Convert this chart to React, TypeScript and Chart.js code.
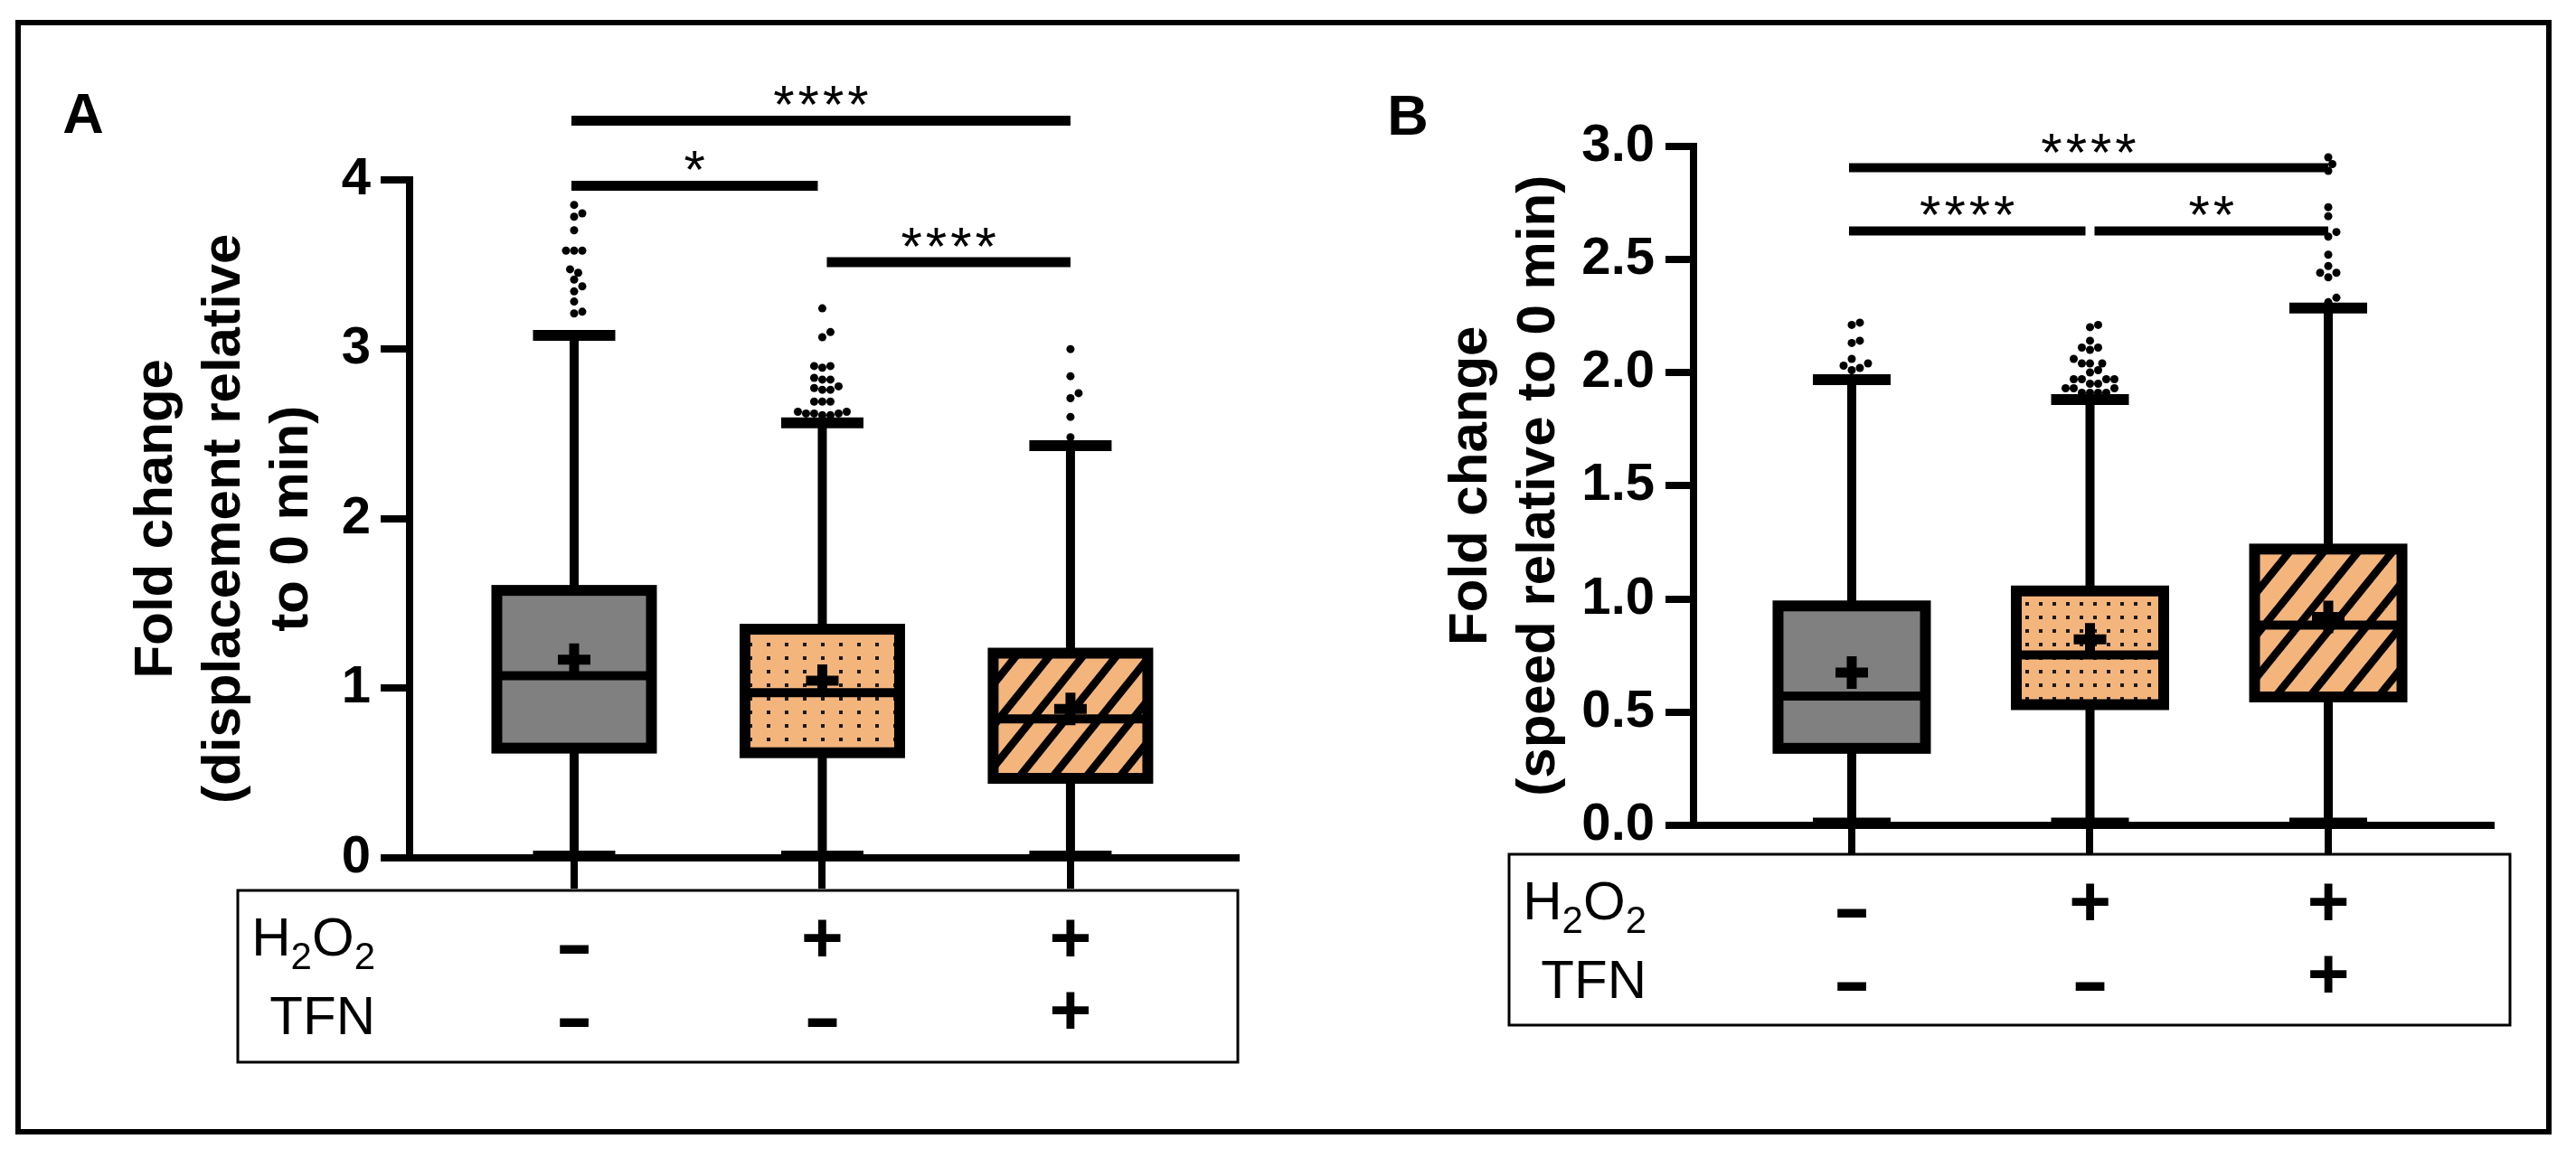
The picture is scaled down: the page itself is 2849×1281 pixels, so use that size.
import React, { useEffect, useRef } from 'react';
import { Chart, registerables } from 'chart.js';

Chart.register(...registerables);

const FONT = '"Liberation Sans", Arial, Helvetica, sans-serif';
const GREY = '#808080';
const ORANGE = '#F4B57D';
const INK = '#000000';

// ---------- shared categories / condition table ----------
const categories = ['Control', 'H2O2', 'H2O2 + TFN'];
const rowLabels = ['H2O2', 'TFN'];
const h2o2Signs = ['–', '+', '+'];
const tfnSigns = ['–', '–', '+'];

// ---------- Panel A : displacement ----------
const dispQ1 = [0.647, 0.62, 0.469];
const dispMedian = [1.074, 0.974, 0.82];
const dispQ3 = [1.577, 1.348, 1.207];
const dispLow = [0.01, 0.01, 0.01];
const dispHigh = [3.08, 2.565, 2.43];
const dispMean = [1.168, 1.044, 0.878];
const dispOutliersCtrl = [3.85, 3.80, 3.78, 3.70, 3.58, 3.58, 3.58, 3.47, 3.45, 3.41, 3.37, 3.34, 3.28, 3.22, 3.21];
const dispOutliersH2O2 = [3.24, 3.10, 3.07, 2.90, 2.90, 2.89, 2.83, 2.82, 2.82, 2.78, 2.77, 2.76, 2.76, 2.69, 2.69, 2.69, 2.63, 2.63, 2.62, 2.62, 2.62, 2.61, 2.61];
const dispOutliersTFN = [3.00, 2.84, 2.74, 2.71, 2.60, 2.48];
const dispTicks = [0, 1, 2, 3, 4];
const dispTickLabels = ['0', '1', '2', '3', '4'];
const dispTitle = ['Fold change', '(displacement relative', 'to 0 min)'];
const dispSigFrom = [0, 0, 1];
const dispSigTo = [2, 1, 2];
const dispSigLevel = [4.347, 3.963, 3.512];
const dispSigText = ['****', '*', '****'];

// ---------- Panel B : speed ----------
const speedQ1 = [0.34, 0.533, 0.567];
const speedMedian = [0.571, 0.752, 0.884];
const speedQ3 = [0.969, 1.035, 1.22];
const speedLow = [0.01, 0.01, 0.01];
const speedHigh = [1.968, 1.88, 2.284];
const speedMean = [0.675, 0.821, 0.92];
const speedOutliersCtrl = [2.22, 2.21, 2.14, 2.13, 2.06, 2.04, 2.03, 2.02, 2.01];
const speedOutliersH2O2 = [2.21, 2.20, 2.14, 2.11, 2.11, 2.10, 2.06, 2.04, 2.04, 2.04, 2.01, 2.00, 1.97, 1.97, 1.97, 1.97, 1.95, 1.95, 1.93, 1.93, 1.93, 1.91, 1.91, 1.91, 1.91];
const speedOutliersTFN = [2.95, 2.92, 2.89, 2.73, 2.69, 2.62, 2.60, 2.52, 2.47, 2.44, 2.44, 2.42, 2.33, 2.31];
const speedTicks = [0, 0.5, 1.0, 1.5, 2.0, 2.5, 3.0];
const speedTickLabels = ['0.0', '0.5', '1.0', '1.5', '2.0', '2.5', '3.0'];
const speedTitle = ['Fold change', '(speed relative to 0 min)'];
const speedSigFrom = [0, 0, 1];
const speedSigTo = [2, 1, 2];
const speedSigLevel = [2.904, 2.625, 2.625];
const speedSigText = ['****', '****', '**'];

type Geom = {
  left: number; width: number; height: number;
  padLeft: number; padTop: number; padRight: number; yWidth: number; xHeight: number;
  xMin: number; xMax: number;
  boxW: number; capW: number; sigLW: number;
  tickLen: number; tickPad: number; xTickLen: number;
  letterX: number; letterY: number;
  table: { l: number; r: number; t: number; b: number };
  labelRight: number;
  dotTile: [number, number];
  hatch: [number, number, number];
};

type PanelCfg = {
  letter: string;
  q1: number[]; median: number[]; q3: number[]; low: number[]; high: number[]; mean: number[];
  outliers: number[][];
  yTicks: number[]; yTickLabels: string[]; yMax: number;
  title: string[];
  sigFrom: number[]; sigTo: number[]; sigLevel: number[]; sigText: string[];
  geom: Geom;
};

const panelA: PanelCfg = {
  letter: 'A',
  q1: dispQ1, median: dispMedian, q3: dispQ3, low: dispLow, high: dispHigh, mean: dispMean,
  outliers: [dispOutliersCtrl, dispOutliersH2O2, dispOutliersTFN],
  yTicks: dispTicks, yTickLabels: dispTickLabels, yMax: 4,
  title: dispTitle,
  sigFrom: dispSigFrom, sigTo: dispSigTo, sigLevel: dispSigLevel, sigText: dispSigText,
  geom: {
    left: 0, width: 1424, height: 1281,
    padLeft: 135.5, padTop: 198.5, padRight: 57, yWidth: 317.5, xHeight: 332,
    xMin: -0.663, xMax: 2.667,
    boxW: 171, capW: 91, sigLW: 11,
    tickLen: 32, tickPad: 11, xTickLen: 34,
    letterX: 92, letterY: 130,
    table: { l: 263, r: 1369, t: 985, b: 1175 },
    labelRight: 415,
    dotTile: [20, 15],
    hatch: [37, 46, 11],
  },
};

const panelB: PanelCfg = {
  letter: 'B',
  q1: speedQ1, median: speedMedian, q3: speedQ3, low: speedLow, high: speedHigh, mean: speedMean,
  outliers: [speedOutliersCtrl, speedOutliersH2O2, speedOutliersTFN],
  yTicks: speedTicks, yTickLabels: speedTickLabels, yMax: 3,
  title: speedTitle,
  sigFrom: speedSigFrom, sigTo: speedSigTo, sigLevel: speedSigLevel, sigText: speedSigText,
  geom: {
    left: 1424, width: 1425, height: 1281,
    padLeft: 165.5, padTop: 161.5, padRight: 94, yWidth: 283.5, xHeight: 368,
    xMin: -0.664, xMax: 2.683,
    boxW: 163, capW: 86, sigLW: 10,
    tickLen: 31, tickPad: 12, xTickLen: 32,
    letterX: 133, letterY: 132,
    table: { l: 245, r: 1352, t: 945, b: 1134 },
    labelRight: 397,
    dotTile: [15, 15],
    hatch: [38, 47, 11],
  },
};

function makeDots(ctx: CanvasRenderingContext2D, w: number, h: number) {
  const c = document.createElement('canvas');
  c.width = w; c.height = h;
  const g = c.getContext('2d')!;
  g.fillStyle = ORANGE; g.fillRect(0, 0, w, h);
  g.fillStyle = '#1a1a1a';
  g.fillRect(Math.round(w / 2 - 2), Math.round(h / 2 - 2), 4, 4);
  return ctx.createPattern(c, 'repeat')!;
}

function makeHatch(ctx: CanvasRenderingContext2D, W: number, H: number, t: number) {
  const c = document.createElement('canvas');
  c.width = W; c.height = H;
  const g = c.getContext('2d')!;
  g.fillStyle = ORANGE; g.fillRect(0, 0, W, H);
  g.fillStyle = INK;
  for (let k = -1; k <= 1; k++) {
    g.beginPath();
    g.moveTo(k * W, H);
    g.lineTo(k * W + W, 0);
    g.lineTo(k * W + W + t, 0);
    g.lineTo(k * W + t, H);
    g.closePath();
    g.fill();
  }
  return ctx.createPattern(c, 'repeat')!;
}

function swarm(values: number[], cx: number, toPx: (v: number) => number, d: number) {
  const placed: { x: number; y: number }[] = [];
  const sorted = [...values].sort((a, b) => a - b);
  for (const v of sorted) {
    const y = toPx(v);
    let px = cx;
    for (let i = 0; i < 60; i++) {
      const off = i === 0 ? 0 : (i % 2 === 1 ? 1 : -1) * Math.ceil(i / 2) * d * 0.5;
      const cand = cx + off;
      if (placed.every((p) => (p.x - cand) ** 2 + (p.y - y) ** 2 >= d * d * 0.92)) { px = cand; break; }
    }
    placed.push({ x: px, y });
  }
  return placed;
}

function line(ctx: CanvasRenderingContext2D, x1: number, y1: number, x2: number, y2: number) {
  ctx.beginPath(); ctx.moveTo(x1, y1); ctx.lineTo(x2, y2); ctx.stroke();
}

function drawChemLabel(ctx: CanvasRenderingContext2D, text: string, right: number, baseline: number) {
  const big = `60px ${FONT}`;
  const small = `42px ${FONT}`;
  const parts = text.split('').map((ch) => ({ ch, sub: /[0-9]/.test(ch) }));
  let total = 0;
  const widths = parts.map((p) => { ctx.font = p.sub ? small : big; const w = ctx.measureText(p.ch).width; total += w; return w; });
  let x = right - total;
  ctx.textAlign = 'left';
  ctx.textBaseline = 'alphabetic';
  parts.forEach((p, i) => {
    ctx.font = p.sub ? small : big;
    ctx.fillText(p.ch, x, baseline + (p.sub ? 15 : 0));
    x += widths[i];
  });
}

function Panel({ cfg }: { cfg: PanelCfg }) {
  const ref = useRef<HTMLCanvasElement>(null);
  const g = cfg.geom;
  useEffect(() => {
    const canvas = ref.current!;
    const ctx0 = canvas.getContext('2d')!;
    const fills = [GREY, makeDots(ctx0, g.dotTile[0], g.dotTile[1]), makeHatch(ctx0, g.hatch[0], g.hatch[1], g.hatch[2])];

    const plugin = {
      id: 'boxplot' + cfg.letter,
      afterDatasetDraw(chart: any, args: any) {
        if (args.meta.type !== 'bar') return;
        const ctx: CanvasRenderingContext2D = chart.ctx;
        const xs = chart.scales.x, ys = chart.scales.y;
        ctx.save();
        ctx.strokeStyle = INK; ctx.lineCap = 'butt';
        for (let i = 0; i < cfg.q1.length; i++) {
          const cx = xs.getPixelForValue(i);
          const yq1 = ys.getPixelForValue(cfg.q1[i]);
          const yq3 = ys.getPixelForValue(cfg.q3[i]);
          const ymed = ys.getPixelForValue(cfg.median[i]);
          const ylo = ys.getPixelForValue(cfg.low[i]);
          const yhi = ys.getPixelForValue(cfg.high[i]);
          ctx.lineWidth = 10;
          line(ctx, cx, yq3, cx, yhi);
          line(ctx, cx, yq1, cx, ylo);
          ctx.lineWidth = 12;
          line(ctx, cx - g.capW / 2, yhi, cx + g.capW / 2, yhi);
          line(ctx, cx - g.capW / 2, ylo, cx + g.capW / 2, ylo);
          ctx.lineWidth = 10;
          line(ctx, cx - g.boxW / 2, ymed, cx + g.boxW / 2, ymed);
          ctx.lineWidth = 12;
          ctx.strokeRect(cx - g.boxW / 2, yq3, g.boxW, yq1 - yq3);
        }
        ctx.restore();
      },
      afterDatasetsDraw(chart: any) {
        const ctx: CanvasRenderingContext2D = chart.ctx;
        const xs = chart.scales.x, ys = chart.scales.y;
        ctx.save();
        ctx.fillStyle = INK;
        cfg.outliers.forEach((vals, i) => {
          const pts = swarm(vals, xs.getPixelForValue(i), (v) => ys.getPixelForValue(v), 9);
          pts.forEach((p) => { ctx.beginPath(); ctx.arc(p.x, p.y, 4.5, 0, Math.PI * 2); ctx.fill(); });
        });
        ctx.restore();
      },
      afterDraw(chart: any) {
        const ctx: CanvasRenderingContext2D = chart.ctx;
        const xs = chart.scales.x, ys = chart.scales.y;
        ctx.save();
        ctx.fillStyle = INK; ctx.strokeStyle = INK; ctx.lineCap = 'butt';
        // significance brackets
        for (let k = 0; k < cfg.sigFrom.length; k++) {
          const from = cfg.sigFrom[k], to = cfg.sigTo[k];
          const startShared = cfg.sigTo.some((t, j) => j !== k && t === from);
          const endShared = cfg.sigFrom.some((f, j) => j !== k && f === to);
          const x1 = xs.getPixelForValue(from) + (startShared ? 5 : -3);
          const x2 = xs.getPixelForValue(to) + (endShared ? -5 : 0);
          const y = ys.getPixelForValue(cfg.sigLevel[k]);
          ctx.lineWidth = g.sigLW;
          line(ctx, x1, y, x2, y);
          ctx.font = `60px ${FONT}`;
          (ctx as any).letterSpacing = '4px';
          ctx.textAlign = 'center';
          ctx.textBaseline = 'alphabetic';
          ctx.fillText(cfg.sigText[k], (x1 + x2) / 2 + 2, y + 3);
          (ctx as any).letterSpacing = '0px';
        }
        // panel letter
        ctx.font = `bold 63px ${FONT}`;
        ctx.textAlign = 'center';
        ctx.textBaseline = 'middle';
        ctx.fillText(cfg.letter, g.letterX, g.letterY);
        // condition table
        const T = g.table;
        ctx.lineWidth = 3;
        ctx.strokeRect(T.l, T.t, T.r - T.l, T.b - T.t);
        drawChemLabel(ctx, rowLabels[0], g.labelRight, T.t + 72);
        ctx.font = `60px ${FONT}`;
        ctx.textAlign = 'right';
        ctx.textBaseline = 'alphabetic';
        ctx.fillText(rowLabels[1], g.labelRight, T.t + 159);
        const rows = [h2o2Signs, tfnSigns];
        rows.forEach((signs, r) => {
          signs.forEach((s, i) => {
            const cx = xs.getPixelForValue(i);
            ctx.textAlign = 'center';
            ctx.textBaseline = 'middle';
            if (s === '+') {
              ctx.font = `bold 80px ${FONT}`;
              ctx.fillText(s, cx, T.t + (r === 0 ? 57 : 137));
            } else {
              ctx.font = `bold 56px ${FONT}`;
              ctx.lineWidth = 4;
              ctx.lineJoin = 'miter';
              const yy = T.t + (r === 0 ? 69 : 150) - 4;
              ctx.fillText(s, cx, yy);
              ctx.strokeText(s, cx, yy);
            }
          });
        });
        ctx.restore();
      },
    };

    const chart = new Chart(canvas, {
      type: 'bar',
      data: {
        datasets: [
          {
            type: 'bar',
            label: 'IQR',
            data: cfg.q1.map((q, i) => ({ x: i, y: [q, cfg.q3[i]] })) as any,
            backgroundColor: fills as any,
            borderWidth: 0,
            barThickness: g.boxW,
            order: 2,
          } as any,
          {
            type: 'scatter',
            label: 'Mean',
            data: cfg.mean.map((m, i) => ({ x: i, y: m })),
            pointStyle: 'cross',
            pointRadius: 18,
            pointBorderWidth: 11,
            pointBorderColor: INK,
            borderColor: INK,
            backgroundColor: INK,
            order: 1,
          } as any,
        ],
      },
      options: {
        responsive: false,
        animation: false,
        devicePixelRatio: 1,
        events: [],
        layout: { padding: { left: g.padLeft, top: g.padTop, right: g.padRight, bottom: 0 }, autoPadding: false } as any,
        plugins: { legend: { display: false }, tooltip: { enabled: false }, title: { display: false } },
        scales: {
          x: {
            type: 'linear',
            offset: false,
            min: g.xMin,
            max: g.xMax,
            afterBuildTicks: (s: any) => { s.ticks = categories.map((_, i) => ({ value: i })); },
            afterFit: (s: any) => { s.height = g.xHeight; },
            grid: { display: true, offset: false, drawOnChartArea: false, drawTicks: true, tickLength: g.xTickLen, lineWidth: 8, color: INK },
            border: { display: true, width: 8, color: INK },
            ticks: { display: false },
          },
          y: {
            type: 'linear',
            min: 0,
            max: cfg.yMax,
            afterBuildTicks: (s: any) => { s.ticks = cfg.yTicks.map((v) => ({ value: v })); },
            afterFit: (s: any) => { s.width = g.yWidth; },
            grid: { drawOnChartArea: false, drawTicks: true, tickLength: g.tickLen, lineWidth: 8, color: INK },
            border: { display: true, width: 8, color: INK },
            ticks: {
              color: INK,
              padding: g.tickPad,
              font: { family: FONT, size: 58, weight: 'bold' },
              callback: (_v: any, idx: number) => cfg.yTickLabels[idx],
            },
            title: {
              display: true,
              text: cfg.title,
              color: INK,
              padding: 0,
              font: { family: FONT, size: 60, weight: 'bold', lineHeight: 1.25 },
            },
          },
        },
      } as any,
      plugins: [plugin as any],
    });
    return () => chart.destroy();
  }, []);
  return (
    <canvas
      ref={ref}
      width={g.width}
      height={g.height}
      style={{ position: 'absolute', left: g.left, top: 0, width: g.width, height: g.height }}
    />
  );
}

export default function App() {
  return (
    <div style={{ position: 'fixed', left: 0, top: 0, width: 2849, height: 1281, background: '#ffffff', overflow: 'hidden' }}>
      <Panel cfg={panelA} />
      <Panel cfg={panelB} />
      <div
        style={{
          position: 'absolute', left: 17, top: 22, width: 2805, height: 1233,
          border: '6px solid #000', boxSizing: 'border-box', pointerEvents: 'none',
        }}
      />
    </div>
  );
}
